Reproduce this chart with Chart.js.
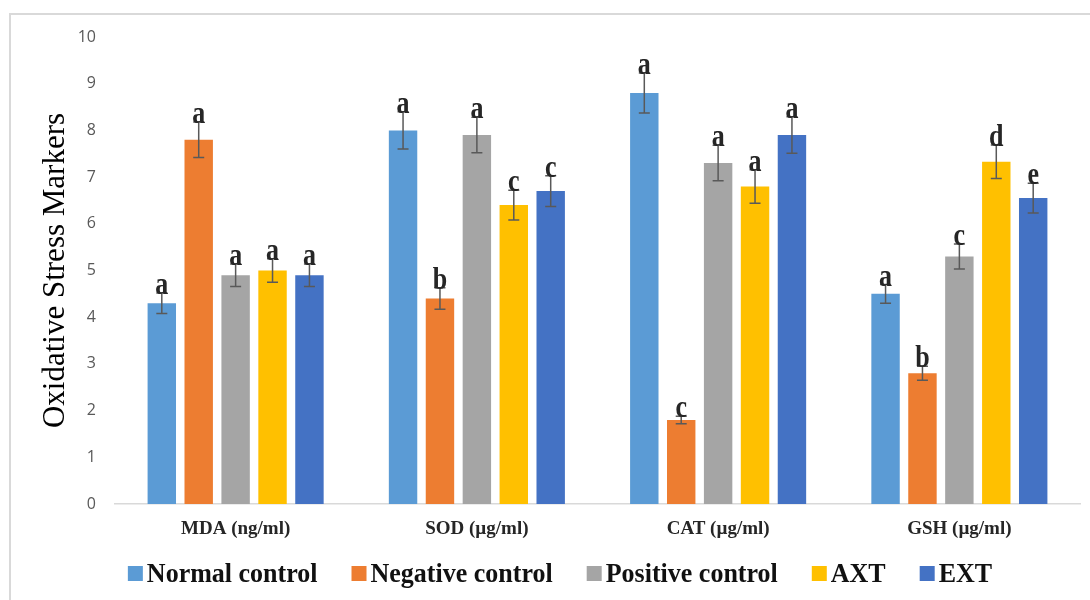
<!DOCTYPE html>
<html>
<head>
<meta charset="utf-8">
<title>Oxidative Stress Markers</title>
<script src="https://cdn.jsdelivr.net/npm/chart.js@4.4.1/dist/chart.umd.min.js"></script>
<style>
  html, body { margin: 0; padding: 0; background: #ffffff; }
  #wrap { position: relative; width: 1090px; height: 600px; }
</style>
</head>
<body>
<div id="wrap"><canvas id="chart" width="1090" height="600"></canvas></div>
<script>
// Marker groups on the x axis
const categories = ['MDA (ng/ml)', 'SOD (µg/ml)', 'CAT (µg/ml)', 'GSH (µg/ml)'];

// Treatment groups
const seriesNames = ['Normal control', 'Negative control', 'Positive control', 'AXT', 'EXT'];

// Mean values per group
const normalControl   = [4.3, 8.0, 8.8, 4.5];
const negativeControl = [7.8, 4.4, 1.8, 2.8];
const positiveControl = [4.9, 7.9, 7.3, 5.3];
const axt             = [5.0, 6.4, 6.8, 7.33];
const ext             = [4.9, 6.7, 7.9, 6.55];

// Error (± SE) per group
const normalControlErr   = [0.22, 0.40, 0.43, 0.20];
const negativeControlErr = [0.38, 0.23, 0.08, 0.15];
const positiveControlErr = [0.24, 0.38, 0.38, 0.27];
const axtErr             = [0.25, 0.32, 0.36, 0.36];
const extErr             = [0.24, 0.33, 0.39, 0.32];

// Significance letters per group
const normalControlSig   = ['a', 'a', 'a', 'a'];
const negativeControlSig = ['a', 'b', 'c', 'b'];
const positiveControlSig = ['a', 'a', 'a', 'c'];
const axtSig             = ['a', 'c', 'a', 'd'];
const extSig             = ['a', 'c', 'a', 'e'];

// Y axis ticks
const yTicks = [0, 1, 2, 3, 4, 5, 6, 7, 8, 9, 10];

const colors = ['#5B9BD5', '#ED7D31', '#A5A5A5', '#FFC000', '#4472C4'];
const values = [normalControl, negativeControl, positiveControl, axt, ext];
const errors = [normalControlErr, negativeControlErr, positiveControlErr, axtErr, extErr];
const sigs   = [normalControlSig, negativeControlSig, positiveControlSig, axtSig, extSig];

const datasets = seriesNames.map((name, i) => ({
  label: name,
  data: values[i],
  errors: errors[i],
  sig: sigs[i],
  backgroundColor: colors[i],
  borderWidth: 0,
  categoryPercentage: 0.765,
  barPercentage: 0.77
}));

// Thin frame around the figure (left and top edges)
const framePlugin = {
  id: 'frame',
  beforeDraw(chart) {
    const ctx = chart.ctx;
    ctx.save();
    ctx.fillStyle = '#ffffff';
    ctx.fillRect(0, 0, chart.width, chart.height);
    ctx.strokeStyle = '#d9d9d9';
    ctx.lineWidth = 2;
    ctx.beginPath();
    ctx.moveTo(10, chart.height);
    ctx.lineTo(10, 14);
    ctx.lineTo(chart.width, 14);
    ctx.stroke();
    ctx.restore();
  }
};

// Draw text stretched vertically about its baseline
function tallText(ctx, text, x, y, sy) {
  ctx.save();
  ctx.translate(x, y);
  ctx.scale(1, sy);
  ctx.fillText(text, 0, 0);
  ctx.restore();
}

// Error bars with caps and significance letters above them
const errorBarPlugin = {
  id: 'errorBars',
  afterDatasetsDraw(chart) {
    const ctx = chart.ctx;
    const y = chart.scales.y;
    ctx.save();
    chart.data.datasets.forEach((ds, di) => {
      const meta = chart.getDatasetMeta(di);
      meta.data.forEach((bar, j) => {
        const v = ds.data[j];
        const e = ds.errors[j];
        const yHi = y.getPixelForValue(v + e);
        const yLo = y.getPixelForValue(v - e);
        const x = bar.x;
        ctx.strokeStyle = '#595959';
        ctx.lineWidth = 1.5;
        ctx.beginPath();
        ctx.moveTo(x, yHi); ctx.lineTo(x, yLo);
        ctx.moveTo(x - 5.5, yHi); ctx.lineTo(x + 5.5, yHi);
        ctx.moveTo(x - 5.5, yLo); ctx.lineTo(x + 5.5, yLo);
        ctx.stroke();
        ctx.fillStyle = '#262626';
        ctx.font = 'bold 26px "Liberation Serif"';
        ctx.textAlign = 'center';
        ctx.textBaseline = 'alphabetic';
        tallText(ctx, ds.sig[j], x, yHi + 1, 1.22);
      });
    });
    ctx.restore();
  }
};

// Legend row below the axis
const legendPlugin = {
  id: 'legendRow',
  afterDraw(chart) {
    const ctx = chart.ctx;
    const box = 15, gapText = 4, gapItem = 34, baseY = 582, centerX = 560;
    ctx.save();
    ctx.font = 'bold 26px "Liberation Serif"';
    const widths = chart.data.datasets.map(ds => ctx.measureText(ds.label).width);
    const total = widths.reduce((s, w) => s + box + gapText + w, 0) + gapItem * (widths.length - 1);
    let x = centerX - total / 2;
    chart.data.datasets.forEach((ds, i) => {
      ctx.fillStyle = ds.backgroundColor;
      ctx.fillRect(x, 566, box, box);
      ctx.fillStyle = '#111111';
      ctx.textAlign = 'left';
      ctx.textBaseline = 'alphabetic';
      tallText(ctx, ds.label, x + box + gapText, baseY, 1.08);
      x += box + gapText + widths[i] + gapItem;
    });
    ctx.restore();
  }
};

new Chart(document.getElementById('chart'), {
  type: 'bar',
  data: { labels: categories, datasets },
  plugins: [framePlugin, errorBarPlugin, legendPlugin],
  options: {
    responsive: false,
    animation: false,
    layout: { padding: { top: 37, right: 10, bottom: 0, left: 0 } },
    plugins: {
      legend: { display: false },
      tooltip: { enabled: false }
    },
    scales: {
      x: {
        grid: { display: false, drawTicks: false },
        border: { display: true, color: '#d9d9d9', width: 1.5 },
        ticks: {
          padding: 14,
          color: '#262626',
          font: { family: 'Liberation Serif', size: 19, weight: 'bold' },
          maxRotation: 0
        },
        afterFit(scale) { scale.height = 96; }
      },
      y: {
        min: 0,
        max: 10,
        afterBuildTicks(scale) { scale.ticks = yTicks.map(v => ({ value: v })); },
        grid: { display: false, drawTicks: false },
        border: { display: false },
        ticks: {
          padding: 19,
          color: '#595959',
          font: { family: 'Open Sans', size: 16 }
        },
        title: {
          display: true,
          text: 'Oxidative Stress Markers',
          color: '#000000',
          font: { family: 'Liberation Serif', size: 31 },
          padding: { top: 37, bottom: 0 }
        },
        afterFit(scale) { scale.width = 115; }
      }
    }
  }
});
</script>
</body>
</html>
